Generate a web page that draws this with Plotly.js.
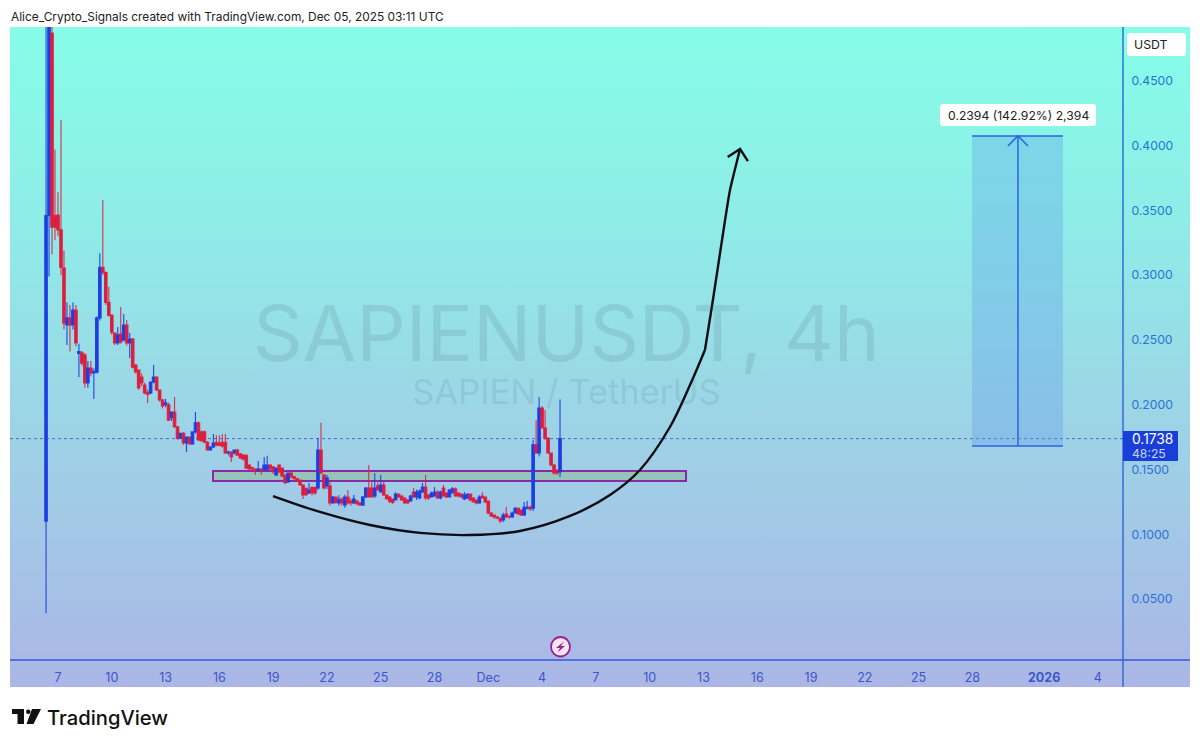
<!DOCTYPE html>
<html>
<head>
<meta charset="utf-8">
<script src="https://cdn.plot.ly/plotly-3.0.1.min.js"></script>
<style>
html,body{margin:0;padding:0;background:#fff;width:1200px;height:747px;overflow:hidden}
#bg{position:absolute;left:10px;top:27px;width:1180px;height:660px;
background:linear-gradient(180deg,rgb(134,253,232) 0%,rgb(143,236,231) 30%,rgb(158,210,230) 62%,rgb(171,182,230) 100%)}
#chart{position:absolute;left:0;top:0;width:1200px;height:747px}
</style>
</head>
<body>
<div id="bg"></div>
<div id="chart"></div>
<script>
var firstCandle = Date.UTC(2025,10,6,8);
var open = [
.11,.346,.487,.346,.3465,.335,.3055,.2615,.267,.2615,
.273,.2395,.24,.2384,.2168,.2283,.2245,.225,.267,.306,
.302,.279,.269,.2554,.2476,.2546,.25,.2615,.2476,.2507,
.2306,.2268,.2214,.2152,.2095,.209,.2175,.2214,.2113,.2036,
.2,.2,.19,.1944,.183,.174,.178,.1704,.175,.1697,
.179,.186,.179,.179,.171,.165,.1673,.171,.1705,.171,
.171,.1627,.1635,.1627,.165,.162,.1612,.161,.1535,.1515,
.1504,.149,.1504,.1497,.15,.1535,.152,.1457,.1535,.151,
.1457,.1403,.1473,.1445,.143,.1419,.138,.1355,.1318,.136,
.136,.1357,.165,.1457,.1373,.1373,.1241,.1287,.1241,.127,
.1226,.1287,.1257,.1241,.1257,.1241,.1225,.1287,.1357,.1357,
.1295,.1373,.1326,.138,.1303,.1287,.1272,.1264,.131,.1295,
.128,.1264,.1257,.1326,.1287,.128,.1326,.1365,.1303,.1287,
.1295,.1326,.128,.1357,.1318,.1287,.1318,.135,.1318,.131,
.1272,.128,.131,.128,.1264,.1241,.1295,.1287,.1257,.1164,
.1148,.1133,.1125,.111,.1156,.114,.1133,.1164,.12,.1187,
.1148,.12,.1208,.12,.169,.1627,.1975,.182,.174,.1627,
.1535,.1496,.148];
var high = [
.52,.53,.50,.397,.364,.42,.319,.279,.277,.279,
.277,.247,.2415,.24,.2337,.2337,.228,.268,.317,.358,
.303,.291,.27,.256,.26,.2754,.27,.2654,.2554,.2515,
.2315,.227,.224,.217,.2115,.2175,.2306,.222,.2115,.2045,
.2044,.2015,.1944,.206,.1835,.178,.179,.175,.1755,.179,
.1944,.187,.18,.18,.172,.168,.1774,.1765,.1765,.1774,
.1774,.1645,.164,.1655,.166,.163,.162,.1615,.154,.152,
.151,.1565,.151,.1596,.1605,.154,.1525,.1515,.154,.1515,
.146,.1473,.148,.145,.1435,.142,.1385,.136,.1395,.137,
.137,.1743,.186,.1465,.1457,.142,.1295,.129,.13,.1285,
.1305,.1342,.1275,.1303,.1265,.125,.1295,.1365,.1535,.14,
.1473,.14,.1457,.1405,.1305,.1295,.1275,.1325,.1315,.13,
.1285,.127,.1305,.1357,.1345,.1345,.1396,.1457,.131,.133,
.1365,.134,.1335,.138,.1325,.135,.1365,.136,.1325,.1315,
.1326,.1315,.1315,.1285,.127,.13,.1325,.129,.126,.117,
.115,.114,.113,.1165,.121,.1145,.1175,.121,.1205,.119,
.1248,.1257,.122,.1727,.188,.206,.199,.196,.175,.163,
.154,.15,.204];
var low = [
.039,.299,.316,.327,.33,.30,.258,.246,.241,.258,
.245,.2214,.23,.213,.213,.222,.2044,.224,.265,.30,
.277,.268,.254,.246,.246,.247,.249,.2455,.236,.228,
.224,.2115,.2145,.208,.2013,.208,.2165,.2105,.2025,.197,
.198,.1875,.1875,.182,.173,.1735,.169,.1635,.169,.169,
.178,.172,.1715,.1705,.1645,.1645,.1665,.168,.168,.167,
.162,.161,.1558,.1615,.1605,.158,.157,.1505,.1495,.149,
.1457,.1485,.1457,.149,.149,.1495,.1465,.145,.147,.144,
.139,.1395,.1435,.142,.1405,.1375,.1272,.1295,.131,.13,
.1305,.1342,.1465,.1345,.135,.1222,.1235,.1235,.122,.122,
.1205,.123,.122,.1235,.1225,.122,.122,.128,.1285,.1285,
.128,.1335,.132,.1295,.1268,.124,.1235,.126,.1282,.1258,
.1235,.1235,.125,.128,.1265,.127,.132,.1265,.1265,.1285,
.129,.1272,.127,.129,.128,.1285,.1315,.129,.1285,.128,
.1265,.1272,.1255,.1245,.123,.1235,.1275,.124,.1155,.1135,
.112,.1115,.1087,.1095,.1125,.112,.1125,.116,.115,.114,
.114,.119,.118,.118,.162,.16,.1815,.173,.162,.1525,
.146,.1457,.1442];
var close = [
.346,.50,.337,.337,.335,.306,.263,.267,.2615,.273,
.2476,.241,.232,.2168,.2283,.2245,.2255,.267,.306,.302,
.279,.269,.256,.2476,.254,.2484,.2615,.2476,.2507,.229,
.2252,.213,.2168,.209,.208,.2175,.2214,.2113,.2036,.199,
.2015,.188,.1944,.183,.174,.178,.1704,.175,.1697,.179,
.186,.1727,.172,.171,.165,.1673,.1704,.1688,.1685,.168,
.1627,.1635,.1596,.165,.161,.1589,.158,.151,.1504,.1504,
.149,.1504,.149,.1535,.1535,.1505,.1497,.151,.148,.145,
.1396,.1473,.1442,.143,.1415,.138,.1303,.1305,.1342,.1318,
.1318,.165,.1473,.1357,.1435,.1241,.1287,.1245,.127,.1241,
.1287,.1241,.1241,.1272,.1235,.1225,.1287,.1357,.1287,.1287,
.1357,.1342,.138,.1303,.1272,.1255,.1245,.131,.1287,.1264,
.1241,.1241,.1295,.1287,.1326,.1334,.1365,.128,.128,.1318,
.1326,.128,.1326,.1295,.1287,.1342,.135,.1295,.1295,.1287,
.1303,.131,.1264,.125,.1241,.1287,.128,.125,.1164,.114,
.1133,.1125,.1102,.1148,.1133,.1133,.1164,.12,.1156,.1148,
.1208,.1208,.1195,.169,.1627,.1975,.182,.174,.1627,.1535,
.1473,.1473,.1738];

var xTickVals = ['2025-11-07','2025-11-10','2025-11-13','2025-11-16','2025-11-19','2025-11-22','2025-11-25','2025-11-28','2025-12-01','2025-12-04','2025-12-07','2025-12-10','2025-12-13','2025-12-16','2025-12-19','2025-12-22','2025-12-25','2025-12-28','2026-01-01','2026-01-04'];
var xTickText = ['7','10','13','16','19','22','25','28','Dec','4','7','10','13','16','19','22','25','28','<b>2026</b>','4'];
var yTickVals = [0.05,0.10,0.15,0.20,0.25,0.30,0.35,0.40,0.45];

var curveX = ['2025-11-18 23:50','2025-11-21 14:40','2025-11-24 09:40','2025-11-27 04:30','2025-11-29 23:30','2025-12-02 18:30','2025-12-05 13:30','2025-12-07 18:50','2025-12-09 11:00','2025-12-11 03:10','2025-12-12 06:00','2025-12-13 02:00'];
var curveY = [.1295,.1172,.1071,.101,.0994,.1025,.1141,.1303,.1496,.1828,.2152,.2422];
var riseX = ['2025-12-13 02:00','2025-12-13 12:40','2025-12-14 00:50','2025-12-14 11:30','2025-12-15 01:00'];
var riseY = [.2422,.2808,.3271,.3657,.3974];
var headX = ['2025-12-14 08:25','2025-12-15 01:00','2025-12-15 11:30'];
var headY = [.3912,.3974,.3881];

var zoneX = ['2025-11-15 15:30','2025-12-12 00:40'];
var zoneY = [.1411,.1488];

var lastPrice = 0.1738;
var measureX = ['2025-12-27 23:30','2026-01-02 01:15'];
var measureY = [.1681,.4075];
var measureMidX = '2025-12-30 13:00';
var measureHeadX = ['2025-12-29 23:30','2025-12-31 02:25'];
var measureHeadY = .3997;

var W=1200,H=747,L=10,R=1123,T=27,B=660;
function px(x){return (x-L)/(R-L);}
function py(y){return (B-y)/(B-T);}
function rounded(x0,y0,x1,y1,r){
  var xs=px,ys=py;
  return 'M'+xs(x0+r)+','+ys(y0)+' L'+xs(x1-r)+','+ys(y0)+' Q'+xs(x1)+','+ys(y0)+' '+xs(x1)+','+ys(y0+r)+
   ' L'+xs(x1)+','+ys(y1-r)+' Q'+xs(x1)+','+ys(y1)+' '+xs(x1-r)+','+ys(y1)+
   ' L'+xs(x0+r)+','+ys(y1)+' Q'+xs(x0)+','+ys(y1)+' '+xs(x0)+','+ys(y1-r)+
   ' L'+xs(x0)+','+ys(y0+r)+' Q'+xs(x0)+','+ys(y0)+' '+xs(x0+r)+','+ys(y0)+' Z';
}
function poly(pts){
  return pts.map(function(p,i){return (i?'L':'M')+px(p[0])+','+py(p[1]);}).join(' ')+' Z';
}
function pp(o){o.xref='paper';o.yref='paper';return o;}

var FONT='Inter, "Liberation Sans", sans-serif';
var times = open.map(function(_,i){return new Date(firstCandle+i*4*3600*1000).toISOString().slice(0,16).replace('T',' ');});

var BLACK='#0c0c14', MEASURE='#2c62e4';
var traces=[
{type:'candlestick',x:times,open:open,high:high,low:low,close:close,whiskerwidth:0,
 increasing:{line:{color:'rgba(28,62,226,0.95)',width:1.1},fillcolor:'#1c3ee2'},
 decreasing:{line:{color:'rgba(220,30,62,0.9)',width:1.1},fillcolor:'#e01c3e'},showlegend:false,hoverinfo:'skip'},
{type:'scatter',mode:'lines',x:curveX,y:curveY,line:{color:BLACK,width:2.4,shape:'spline',smoothing:0.95},showlegend:false,hoverinfo:'skip'},
{type:'scatter',mode:'lines',x:riseX,y:riseY,line:{color:BLACK,width:2.4,shape:'spline',smoothing:0.4},showlegend:false,hoverinfo:'skip'},
{type:'scatter',mode:'lines',x:headX,y:headY,line:{color:BLACK,width:2.4},showlegend:false,hoverinfo:'skip'},
{type:'scatter',mode:'lines',x:[measureMidX,measureMidX],y:measureY,line:{color:MEASURE,width:1.5},showlegend:false,hoverinfo:'skip'},
{type:'scatter',mode:'lines',x:[measureHeadX[0],measureMidX,measureHeadX[1]],y:[measureHeadY,measureY[1],measureHeadY],line:{color:MEASURE,width:1.5},showlegend:false,hoverinfo:'skip'}
];

var shapes=[
{type:'rect',xref:'x',yref:'y',x0:measureX[0],x1:measureX[1],y0:measureY[0],y1:measureY[1],fillcolor:'rgba(90,150,235,0.3)',line:{width:0},layer:'below'},
{type:'line',xref:'x',yref:'y',x0:measureX[0],x1:measureX[1],y0:measureY[1],y1:measureY[1],line:{color:MEASURE,width:1.6}},
{type:'line',xref:'x',yref:'y',x0:measureX[0],x1:measureX[1],y0:measureY[0],y1:measureY[0],line:{color:MEASURE,width:1.6}},
{type:'rect',xref:'x',yref:'y',x0:zoneX[0],x1:zoneX[1],y0:zoneY[0],y1:zoneY[1],fillcolor:'rgba(140,190,150,0.55)',line:{color:'#8a2aa8',width:2},layer:'below'},
{type:'line',xref:'paper',yref:'y',x0:0,x1:1,y0:lastPrice,y1:lastPrice,line:{color:'#2c55d0',width:0.8,dash:'dot'},layer:'below'},
pp({type:'line',x0:0,x1:px(1190),y0:0,y1:0,line:{color:'#3a55dc',width:1.4}}),
pp({type:'line',x0:1,x1:1,y0:py(27),y1:py(687),line:{color:'#2a66dc',width:1.4}}),
pp({type:'path',path:rounded(1127,33,1186,56,3),fillcolor:'#ffffff',line:{width:0}}),
pp({type:'path',path:rounded(940,104,1096,126,3),fillcolor:'#ffffff',line:{width:0}}),
pp({type:'rect',x0:px(1123),x1:px(1178),y0:py(431),y1:py(461),fillcolor:'#1a3fd8',line:{width:0}}),
pp({type:'circle',x0:px(551),x1:px(570),y0:py(637),y1:py(656.5),fillcolor:'#f6e6f3',line:{color:'#a0208e',width:1.8}}),
pp({type:'path',path:poly([[564,641.5],[556,648],[560,648],[557.5,652.5],[565,646],[561,646]]),fillcolor:'#a0208e',line:{width:0}}),
pp({type:'path',path:poly([[12,709],[24,709],[24,724],[17.5,724],[17.5,714],[12,714]]),fillcolor:'#111',line:{width:0}}),
pp({type:'circle',x0:px(26),x1:px(30.5),y0:py(709.5),y1:py(714),fillcolor:'#111',line:{width:0}}),
pp({type:'path',path:poly([[32,709],[41,709],[33.5,724],[26.5,724]]),fillcolor:'#111',line:{width:0}})
];

function note(x,y,text,size,color,anchor,weight){
  return {xref:'paper',yref:'paper',x:px(x),y:py(y),text:text,showarrow:false,xanchor:anchor||'left',yanchor:'middle',
   font:{family:FONT,size:size,color:color,weight:weight||400},borderpad:0};
}
var annotations=[
note(566,333,'SAPIENUSDT, 4h',77.5,'rgba(70,90,110,0.14)','center'),
note(566,391,'SAPIEN / TetherUS',34.6,'rgba(70,90,110,0.14)','center'),
note(10,17,'Alice_Crypto_Signals created with TradingView.com, Dec 05, 2025 03:11 UTC',11.9,'#222222','left'),
note(1133,44.5,'USDT',12.3,'#222222','left'),
note(1018,115.5,'0.2394 (142.92%) 2,394',12.2,'#222222','center'),
note(1131,439,'0.1738',13.8,'#ffffff','left'),
note(1131,453,'48:25',12.2,'#c8d4ff','left'),
note(46,717,'TradingView',20.2,'#111111','left',500)
];

var layout={
 width:W,height:H,autosize:false,
 margin:{l:L,r:W-R,t:T,b:H-B,pad:0,autoexpand:false},
 paper_bgcolor:'rgba(0,0,0,0)',plot_bgcolor:'rgba(0,0,0,0)',
 showlegend:false,hovermode:false,dragmode:false,boxgap:0.15,boxgroupgap:0,
 xaxis:{type:'date',range:['2025-11-04 07:45','2026-01-05 09:36'],rangeslider:{visible:false},
  tickmode:'array',tickvals:xTickVals,ticktext:xTickText,tickangle:0,showgrid:false,zeroline:false,showline:false,
  ticks:'outside',ticklen:6,tickcolor:'rgba(0,0,0,0)',tickfont:{family:FONT,size:12.5,color:'#3d55c8'}},
 yaxis:{side:'right',range:[0.0029,0.4916],tickmode:'array',tickvals:yTickVals,tickformat:'.4f',
  showgrid:false,zeroline:false,showline:false,ticks:'outside',ticklen:5,tickcolor:'rgba(0,0,0,0)',
  tickfont:{family:FONT,size:12.2,color:'#2a72d8'}},
 shapes:shapes,annotations:annotations
};
Plotly.newPlot('chart',traces,layout,{displayModeBar:false,staticPlot:true});
</script>
</body>
</html>
